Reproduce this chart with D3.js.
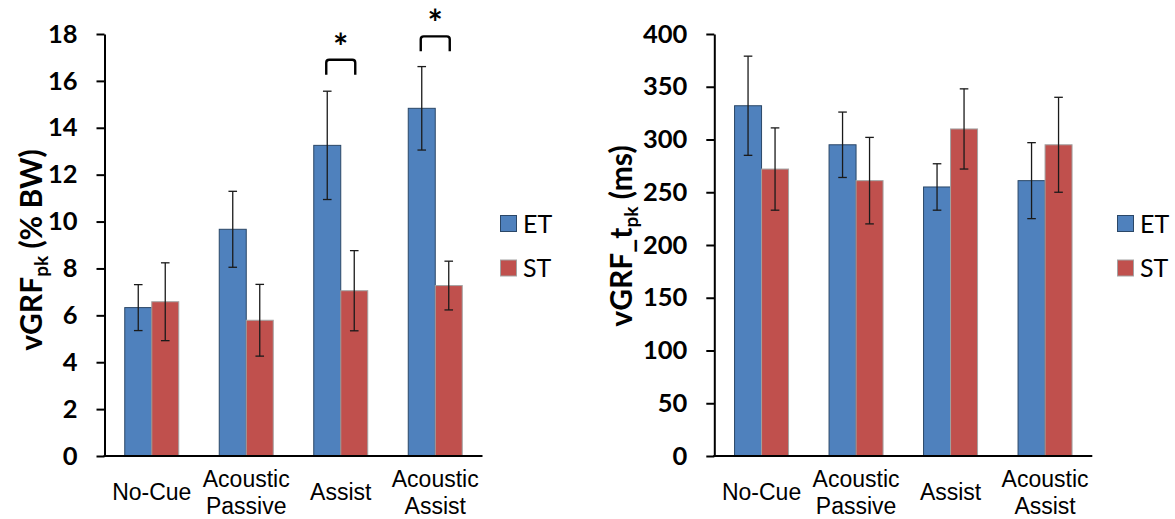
<!DOCTYPE html>
<html>
<head>
<meta charset="utf-8">
<script src="https://cdn.jsdelivr.net/npm/d3@7"></script>
<style>
  html, body { margin: 0; padding: 0; background: #fff; }
  svg { display: block; }
</style>
</head>
<body>
<svg id="chart" width="1175" height="519"></svg>
<script>
// Gait conditions and groups
const categories = ["No-Cue", "Acoustic Passive", "Assist", "Acoustic Assist"];
const series = ["ET", "ST"];

// Peak vertical ground reaction force (% body weight), mean and SD
const peakET    = [6.33, 9.67, 13.25, 14.83];
const peakETErr = [0.98, 1.62, 2.31, 1.78];
const peakST    = [6.58, 5.79, 7.05, 7.27];
const peakSTErr = [1.66, 1.53, 1.71, 1.04];

// Time to peak vertical ground reaction force (ms), mean and SD
const timeET    = [332, 295, 255, 261];
const timeETErr = [47, 31, 22, 36];
const timeST    = [272, 261, 310, 295];
const timeSTErr = [39, 41, 38, 45];

// Axis ticks
const peakTicks = [0, 2, 4, 6, 8, 10, 12, 14, 16, 18];
const timeTicks = [0, 50, 100, 150, 200, 250, 300, 350, 400];

// Significant ET vs ST differences and the height of their brackets (% BW)
const sigCategories = ["Assist", "Acoustic Assist"];
const sigHeights = [16.9, 17.9];

const colors = { ET: "#4F81BD", ST: "#C0504D" };
const strokes = { ET: "#2B4767", ST: "#A3A3A3" };

const svg = d3.select("#chart");
svg.append("rect").attr("width", 1175).attr("height", 519).attr("fill", "#fff");

function buildRows(a, aErr, b, bErr) {
  return categories.map((c, i) => ({
    category: c,
    values: [
      { key: "ET", value: a[i], err: aErr[i] },
      { key: "ST", value: b[i], err: bErr[i] }
    ]
  }));
}

function drawPanel(opts) {
  const W = 378, top = 34, bottom = 456;
  const g = svg.append("g").attr("transform", `translate(${opts.left},0)`);

  const x0 = d3.scaleBand().domain(categories).range([0, W])
    .paddingInner(0.4286).paddingOuter(0.2143);
  const x1 = d3.scaleBand().domain(series).range([0, x0.bandwidth()]);
  const y = d3.scaleLinear().domain(opts.domain).range([bottom, top]);

  // bars
  const groups = g.selectAll("g.cat").data(opts.rows).join("g")
    .attr("class", "cat")
    .attr("transform", d => `translate(${x0(d.category)},0)`);

  groups.selectAll("rect").data(d => d.values).join("rect")
    .attr("x", d => x1(d.key))
    .attr("y", d => y(d.value))
    .attr("width", x1.bandwidth())
    .attr("height", d => y(0) - y(d.value))
    .attr("fill", d => colors[d.key])
    .attr("stroke", d => strokes[d.key])
    .attr("stroke-width", 1);

  // error bars
  const eb = groups.selectAll("g.err").data(d => d.values).join("g")
    .attr("class", "err")
    .attr("transform", d => `translate(${x1(d.key) + x1.bandwidth() / 2},0)`)
    .attr("stroke", "#1a1a1a").attr("stroke-width", 1.3);
  eb.append("line")
    .attr("y1", d => y(d.value + d.err)).attr("y2", d => y(d.value - d.err));
  eb.append("line").attr("x1", -4.3).attr("x2", 4.3)
    .attr("y1", d => y(d.value + d.err)).attr("y2", d => y(d.value + d.err));
  eb.append("line").attr("x1", -4.3).attr("x2", 4.3)
    .attr("y1", d => y(d.value - d.err)).attr("y2", d => y(d.value - d.err));

  // y axis
  const yAxis = g.append("g")
    .call(d3.axisLeft(y).tickValues(opts.ticks).tickSize(8).tickSizeOuter(0).tickPadding(19));
  yAxis.select(".domain").attr("stroke", "#000").attr("stroke-width", 2);
  yAxis.selectAll(".tick line").attr("stroke", "#000").attr("stroke-width", 2);
  yAxis.selectAll(".tick text")
    .attr("fill", "#000")
    .style("font-family", "Lato, 'Open Sans', sans-serif")
    .style("font-weight", "bold")
    .style("font-size", "25.5px");

  // x axis
  const xAxis = g.append("g").attr("transform", `translate(0,${bottom})`)
    .call(d3.axisBottom(x0).tickSize(0).tickSizeOuter(0).tickFormat(""));
  xAxis.select(".domain").attr("stroke", "#000").attr("stroke-width", 2)
    .attr("d", `M-1,0H${W}`);
  xAxis.selectAll(".tick text").remove();
  xAxis.selectAll(".tick").each(function (d) {
    const lines = d.split(" ");
    const t = d3.select(this).append("text")
      .attr("fill", "#000")
      .attr("text-anchor", "middle")
      .style("font-family", "'Liberation Sans', Arial, sans-serif")
      .style("font-size", "23px");
    if (lines.length === 1) {
      t.append("tspan").attr("x", 0).attr("y", 44).text(lines[0]);
    } else {
      t.append("tspan").attr("x", 0).attr("y", 31).text(lines[0]);
      t.append("tspan").attr("x", 0).attr("y", 57.5).text(lines[1]);
    }
  });

  // y title
  const title = svg.append("text")
    .attr("transform", `translate(${opts.titleX},${opts.titleY}) rotate(-90)`)
    .attr("text-anchor", "middle")
    .attr("fill", "#000")
    .style("font-family", "Lato, 'Open Sans', sans-serif")
    .style("font-weight", "bold")
    .style("font-size", "30px");
  title.append("tspan").text(opts.titleMain);
  title.append("tspan").attr("font-size", "19px").attr("dy", 6).text("pk");
  title.append("tspan").attr("dy", -6).text(opts.titleUnit);

  // legend
  const leg = svg.append("g").attr("transform", `translate(${opts.legendX},215)`);
  series.forEach((s, i) => {
    const row = leg.append("g").attr("transform", `translate(0,${i * 44.5})`);
    row.append("rect").attr("x", 0.5).attr("y", 0.5).attr("width", 16).attr("height", 16)
      .attr("fill", colors[s]).attr("stroke", strokes[s]).attr("stroke-width", 1);
    row.append("text").attr("x", 23).attr("y", 17.5)
      .attr("fill", "#000")
      .style("font-family", "Lato, 'Open Sans', sans-serif")
      .style("font-size", "25px")
      .text(s);
  });

  return { g, x0, x1, y };
}

const left = drawPanel({
  left: 104.5, domain: [0, 18], ticks: peakTicks,
  rows: buildRows(peakET, peakETErr, peakST, peakSTErr),
  titleMain: "vGRF", titleUnit: " (% BW)", titleX: 42, titleY: 250,
  legendX: 500
});

drawPanel({
  left: 714.3, domain: [0, 400], ticks: timeTicks,
  rows: buildRows(timeET, timeETErr, timeST, timeSTErr),
  titleMain: "vGRF_t", titleUnit: " (ms)", titleX: 632, titleY: 236,
  legendX: 1117
});

// significance brackets with stars
sigCategories.forEach((c, i) => {
  const { g, x0, x1, y } = left;
  const xa = x0(c) + x1("ET") + x1.bandwidth() / 2 - 1;
  const xb = x0(c) + x1("ST") + x1.bandwidth() / 2 + 1;
  const yt = y(sigHeights[i]);
  const yl = yt + 15;
  const r = 3;
  g.append("path")
    .attr("d", `M${xa},${yl}V${yt + r}Q${xa},${yt} ${xa + r},${yt}H${xb - r}Q${xb},${yt} ${xb},${yt + r}V${yl}`)
    .attr("fill", "none").attr("stroke", "#000").attr("stroke-width", 2.4);
  g.append("text")
    .attr("x", (xa + xb) / 2).attr("y", yt)
    .attr("text-anchor", "middle")
    .attr("fill", "#000")
    .style("font-family", "Lato, 'Open Sans', sans-serif")
    .style("font-weight", "bold")
    .style("font-size", "36px")
    .text("*");
});
</script>
</body>
</html>
